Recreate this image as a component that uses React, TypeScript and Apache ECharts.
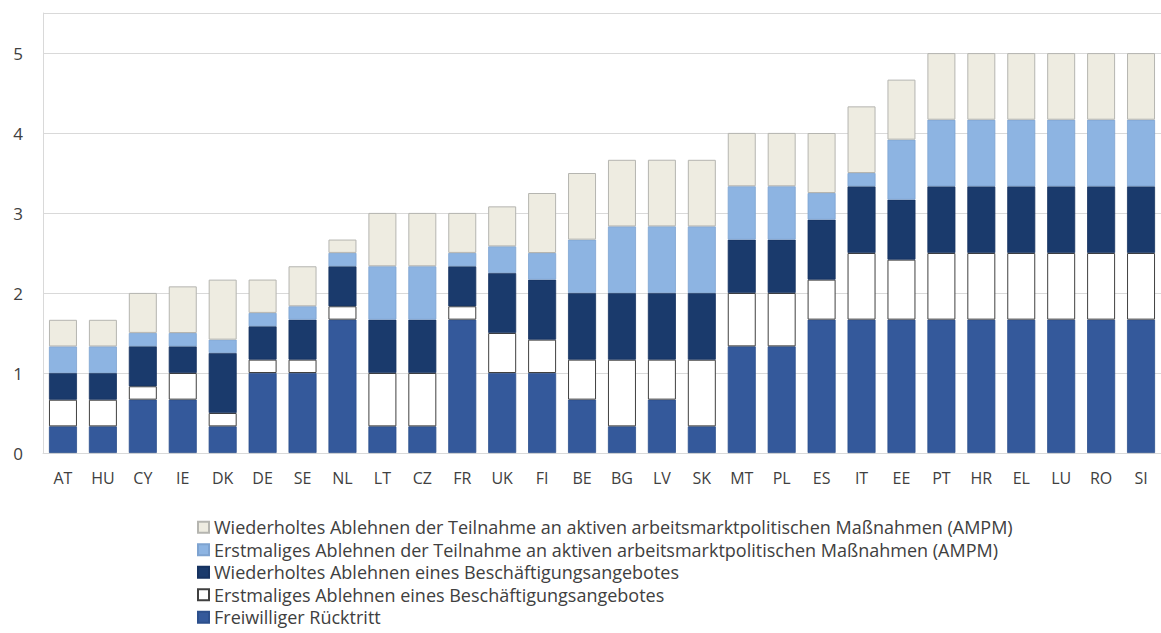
import React, { useEffect, useRef } from "react";
import * as echarts from "echarts";

// Country codes along the x axis
const countries = [
  "AT", "HU", "CY", "IE", "DK", "DE", "SE", "NL", "LT", "CZ", "FR", "UK", "FI", "BE",
  "BG", "LV", "SK", "MT", "PL", "ES", "IT", "EE", "PT", "HR", "EL", "LU", "RO", "SI",
];

// Series names (stack order, bottom to top)
const nameFreiwillig = "Freiwilliger Rücktritt";
const nameErstBesch = "Erstmaliges Ablehnen eines Beschäftigungsangebotes";
const nameWiedBesch = "Wiederholtes Ablehnen eines Beschäftigungsangebotes";
const nameErstAmpm = "Erstmaliges Ablehnen der Teilnahme an aktiven arbeitsmarktpolitischen Maßnahmen (AMPM)";
const nameWiedAmpm = "Wiederholtes Ablehnen der Teilnahme an aktiven arbeitsmarktpolitischen Maßnahmen (AMPM)";

const freiwillig = [
  0.333, 0.333, 0.667, 0.667, 0.333, 1.0, 1.0, 1.667, 0.333, 0.333, 1.667, 1.0, 1.0, 0.667,
  0.333, 0.667, 0.333, 1.333, 1.333, 1.667, 1.667, 1.667, 1.667, 1.667, 1.667, 1.667, 1.667, 1.667,
];
const erstBesch = [
  0.333, 0.333, 0.167, 0.333, 0.167, 0.167, 0.167, 0.167, 0.667, 0.667, 0.167, 0.5, 0.417, 0.5,
  0.833, 0.5, 0.833, 0.667, 0.667, 0.5, 0.833, 0.75, 0.833, 0.833, 0.833, 0.833, 0.833, 0.833,
];
const wiedBesch = [
  0.333, 0.333, 0.5, 0.333, 0.75, 0.417, 0.5, 0.5, 0.667, 0.667, 0.5, 0.75, 0.75, 0.833,
  0.833, 0.833, 0.833, 0.667, 0.667, 0.75, 0.833, 0.75, 0.833, 0.833, 0.833, 0.833, 0.833, 0.833,
];
const erstAmpm = [
  0.333, 0.333, 0.167, 0.167, 0.167, 0.167, 0.167, 0.167, 0.667, 0.667, 0.167, 0.333, 0.333, 0.667,
  0.833, 0.833, 0.833, 0.667, 0.667, 0.333, 0.167, 0.75, 0.833, 0.833, 0.833, 0.833, 0.833, 0.833,
];
const wiedAmpm = [
  0.333, 0.333, 0.5, 0.583, 0.75, 0.417, 0.5, 0.167, 0.667, 0.667, 0.5, 0.5, 0.75, 0.833,
  0.833, 0.833, 0.833, 0.667, 0.667, 0.75, 0.833, 0.75, 0.833, 0.833, 0.833, 0.833, 0.833, 0.833,
];

const yTicks = [0, 1, 2, 3, 4, 5];

const FONT = "'Open Sans', 'DejaVu Sans', sans-serif";
const TEXT = "#404040";

export default function App() {
  const ref = useRef<HTMLDivElement>(null);

  useEffect(() => {
    if (!ref.current) return;
    const chart = echarts.init(ref.current, undefined, { renderer: "svg" });

    const mk = (name: string, data: number[], color: string, border: string, bw: number) => ({
      name,
      type: "bar" as const,
      stack: "total",
      data,
      barWidth: 28,
      itemStyle: { color, borderColor: border, borderWidth: bw },
      emphasis: { disabled: true },
    });

    chart.setOption({
      animation: false,
      backgroundColor: "#ffffff",
      textStyle: { fontFamily: FONT },
      grid: { left: 43, top: 13, width: 1126, bottom: 180, containLabel: false },
      xAxis: {
        type: "category",
        data: countries,
        axisTick: { show: false },
        axisLine: { show: true, lineStyle: { color: "#D9D9D9", width: 1 } },
        axisLabel: { color: TEXT, fontSize: 16, fontFamily: FONT, margin: 17, interval: 0 },
      },
      yAxis: {
        type: "value",
        min: 0,
        max: 5.5,
        interval: 1,
        axisLine: { show: true, lineStyle: { color: "#D9D9D9", width: 1 } },
        axisTick: { show: false },
        splitLine: { show: true, lineStyle: { color: "#D9D9D9", width: 1 } },
        axisLabel: {
          color: TEXT,
          fontSize: 17,
          fontFamily: FONT,
          margin: 20,
          formatter: (v: number) => (yTicks.includes(v) ? String(v) : ""),
        },
      },
      legend: {
        orient: "vertical",
        left: 197,
        top: 516,
        height: 120,
        padding: 0,
        icon: "rect",
        itemWidth: 11,
        itemHeight: 11,
        itemGap: 0,
        selectedMode: false,
        data: [nameWiedAmpm, nameErstAmpm, nameWiedBesch, nameErstBesch, nameFreiwillig],
        textStyle: { color: TEXT, fontSize: 18, fontFamily: FONT, lineHeight: 22.5 },
      },
      series: [
        mk(nameFreiwillig, freiwillig, "#34599B", "#2C4F8C", 0.8),
        mk(nameErstBesch, erstBesch, "#FFFFFF", "#404040", 1),
        mk(nameWiedBesch, wiedBesch, "#1A3A6C", "#163260", 0.8),
        mk(nameErstAmpm, erstAmpm, "#8DB4E2", "#7EA3D0", 0.8),
        mk(nameWiedAmpm, wiedAmpm, "#EEECE1", "#B5B5B0", 1),
      ],
    });

    return () => chart.dispose();
  }, []);

  return (
    <div
      ref={ref}
      style={{ position: "fixed", left: 0, top: 0, width: 1161, height: 633, background: "#fff" }}
    />
  );
}
